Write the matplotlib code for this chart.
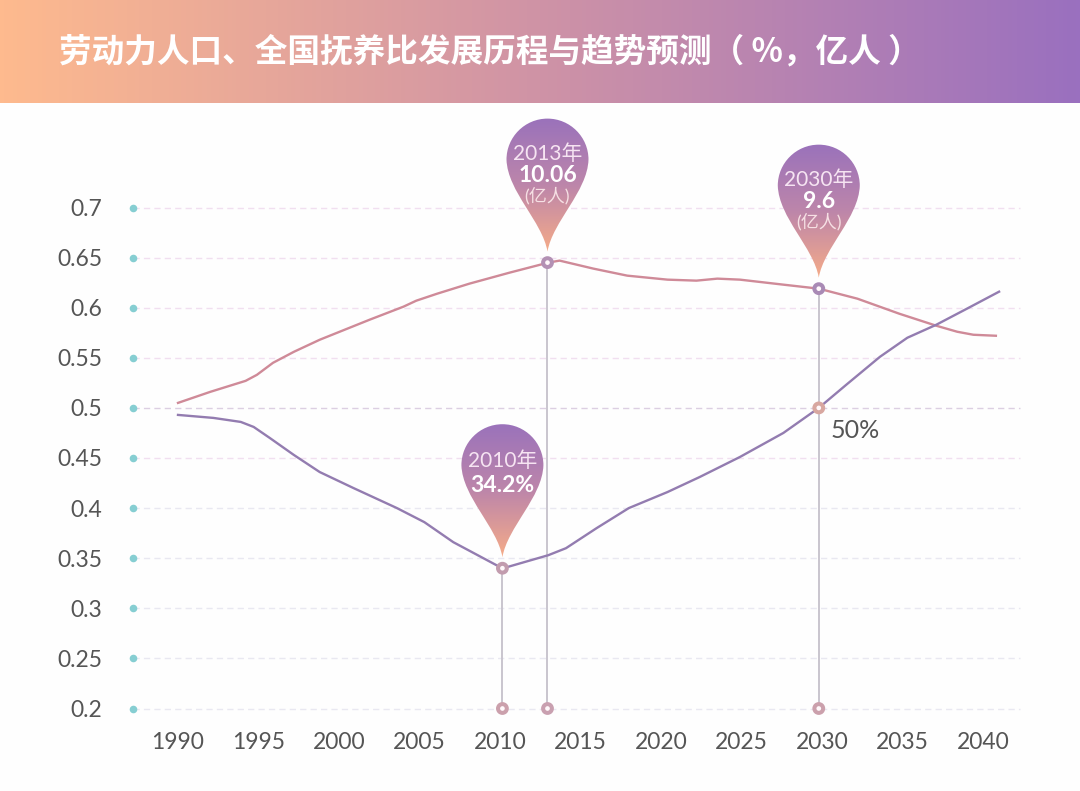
import matplotlib
matplotlib.use("Agg")
import matplotlib.pyplot as plt
import numpy as np
from matplotlib.colors import LinearSegmentedColormap
from matplotlib.path import Path
from matplotlib.patches import PathPatch

plt.rcParams["font.family"] = ["Lato", "Noto Sans CJK SC", "DejaVu Sans"]

W, H = 1080, 791

title = "劳动力人口、全国抚养比发展历程与趋势预测（ %，亿人 ）"
y_ticks = [0.2, 0.25, 0.3, 0.35, 0.4, 0.45, 0.5, 0.55, 0.6, 0.65, 0.7]
y_labels = ["0.2", "0.25", "0.3", "0.35", "0.4", "0.45", "0.5", "0.55", "0.6", "0.65", "0.7"]
x_ticks = [1990, 1995, 2000, 2005, 2010, 2015, 2020, 2025, 2030, 2035, 2040]

labor_x = [1990.0, 1992.0, 1994.2, 1994.9, 1995.9, 1997.2, 1998.8, 2001.9, 2004.0, 2004.8,
           2006.1, 2008.1, 2010.6, 2013.0, 2013.7, 2015.8, 2017.9, 2020.4, 2022.2, 2023.5,
           2024.9, 2027.6, 2029.8, 2032.2, 2034.8, 2037.1, 2038.4, 2039.4, 2040.8]
labor_y = [0.505, 0.516, 0.527, 0.533, 0.545, 0.556, 0.568, 0.588, 0.601, 0.607,
           0.614, 0.624, 0.635, 0.645, 0.647, 0.639, 0.632, 0.628, 0.627, 0.629,
           0.628, 0.623, 0.619, 0.609, 0.594, 0.582, 0.576, 0.573, 0.572]
ratio_x = [1990.0, 1992.2, 1993.9, 1994.7, 1995.7, 1997.2, 1998.8, 2000.9, 2003.6, 2005.3,
           2007.1, 2009.9, 2010.2, 2013.0, 2014.1, 2016.0, 2018.0, 2020.4, 2022.4, 2024.9,
           2027.6, 2029.8, 2031.5, 2033.6, 2035.3, 2037.1, 2039.0, 2041.0]
ratio_y = [0.493, 0.490, 0.486, 0.481, 0.470, 0.453, 0.436, 0.420, 0.400, 0.386,
           0.366, 0.342, 0.340, 0.353, 0.360, 0.380, 0.400, 0.416, 0.431, 0.451,
           0.475, 0.500, 0.523, 0.551, 0.570, 0.583, 0.599, 0.616]

# pins: year position, value, text lines
pin_x = [2010.15, 2012.95, 2029.8]
pin_y = [0.340, 0.645, 0.619]
pin_head = ["2010年", "2013年", "2030年"]
pin_value = ["34.2%", "10.06", "9.6"]
pin_unit = [None, "(亿人)", "(亿人)"]

fig = plt.figure(figsize=(W / 100, H / 100), dpi=100, facecolor="#fefefe")

# px <-> data: 16.1 px per year, 1002 px per 1.0
ax = fig.add_axes([133 / W, 1 - 708.5 / H, (1020 - 133) / W, (708.5 - 207.5) / H])
ax.set_xlim(1990 + (133 - 178) / 16.1, 1990 + (1020 - 178) / 16.1)
ax.set_ylim(0.2, 0.7)
ax.patch.set_alpha(0)
for s in ax.spines.values():
    s.set_visible(False)

ax.set_yticks(y_ticks, y_labels)
ax.set_xticks(x_ticks)
ax.tick_params(axis="y", length=0, pad=22, labelsize=16.5, labelcolor="#555555")
ax.tick_params(axis="x", length=0, pad=17, labelsize=16.5, labelcolor="#555555")

for v in y_ticks:
    if v == 0.5:
        c = "#dccfe2"
    elif v >= 0.45:
        c = "#f1dff0"
    else:
        c = "#e9e8f1"
    ax.axhline(v, color=c, lw=1.0, dashes=(4.5, 3), zorder=1, clip_on=False)
ax.scatter([0] * len(y_ticks), y_ticks, s=30, color="#86ced2", linewidths=0, zorder=3,
           transform=ax.get_yaxis_transform(), clip_on=False)

ax.plot(labor_x, labor_y, color="#cf8a98", lw=1.7, zorder=3, clip_on=False)
ax.plot(ratio_x, ratio_y, color="#937cb0", lw=1.7, zorder=3, clip_on=False)

for px, py in zip(pin_x, pin_y):
    ax.plot([px, px], [0.2, py], color="#c9c5ce", lw=1.4, zorder=2)

ring_x = pin_x + [pin_x[2]] + pin_x
ring_y = pin_y + [0.5] + [0.2] * 3
ring_c = ["#c29cae", "#b391b4", "#a98ab5", "#d8a7a0", "#cba0ac", "#c9a0b0", "#cba0ac"]
ax.scatter(ring_x, ring_y, s=40, facecolor="#fff8fa", edgecolor=ring_c, linewidths=2.9,
           zorder=5, clip_on=False)

ax.text(2030.55, 0.477, "50%", fontsize=18, color="#555555", va="center", ha="left")

# overlay in pixel coords for header and pins
ov = fig.add_axes([0, 0, 1, 1])
ov.set_xlim(0, W)
ov.set_ylim(H, 0)
ov.axis("off")
ov.patch.set_alpha(0)

head_cmap = LinearSegmentedColormap.from_list("head", ["#feba8e", "#cf93a6", "#9a70bf"])
ov.imshow(np.linspace(0, 1, 256)[None, :], cmap=head_cmap, extent=(0, W, 103, 0), aspect="auto", zorder=1)
ov.text(59, 52, title, fontsize=23.5, fontweight="bold", color="white", va="center", ha="left",
        family=["Noto Sans CJK SC", "DejaVu Sans"], zorder=2)

pin_cmap = LinearSegmentedColormap.from_list("pin", ["#9a72bb", "#bd86aa", "#f6ac88"])
codes = [Path.MOVETO] + [Path.CURVE4] * 15
R = 41
K = 22.6
shape = np.array([
    (0, 92), (5, 62), (40, 32), (R, 0),
    (R, -K), (K, -R), (0, -R),
    (-K, -R), (-R, -K), (-R, 0),
    (-40, 32), (-5, 62), (0, 92),
    (0, 92), (0, 92), (0, 92),
], dtype=float)

to_px = ax.transData
for i in range(3):
    tx, ty = to_px.transform((pin_x[i], pin_y[i]))
    ty = H - ty
    cx, cy = tx, ty - 11 - 92
    patch = PathPatch(Path(shape + (cx, cy), codes), transform=ov.transData, fc="none", ec="none")
    ov.add_patch(patch)
    im = ov.imshow(np.linspace(0, 1, 256)[:, None], cmap=pin_cmap,
                   extent=(cx - R - 2, cx + R + 2, cy + 93, cy - R - 1), aspect="auto", zorder=6)
    im.set_clip_path(patch)
    if pin_unit[i]:
        ov.text(cx, cy - 6, pin_head[i], color="#f6e4f2", fontsize=15, ha="center", va="center", zorder=7)
        ov.text(cx, cy + 16, pin_value[i], color="white", fontsize=16.5, fontweight="bold", ha="center", va="center", zorder=7)
        ov.text(cx, cy + 36, pin_unit[i], color="#f6e0e4", fontsize=13, ha="center", va="center", zorder=7)
    else:
        ov.text(cx, cy - 4, pin_head[i], color="#f6e4f2", fontsize=15, ha="center", va="center", zorder=7)
        ov.text(cx, cy + 20, pin_value[i], color="white", fontsize=16.5, fontweight="bold", ha="center", va="center", zorder=7)

ov.set_xlim(0, W)
ov.set_ylim(H, 0)

fig.savefig("out.png", dpi=100)
plt.close(fig)
